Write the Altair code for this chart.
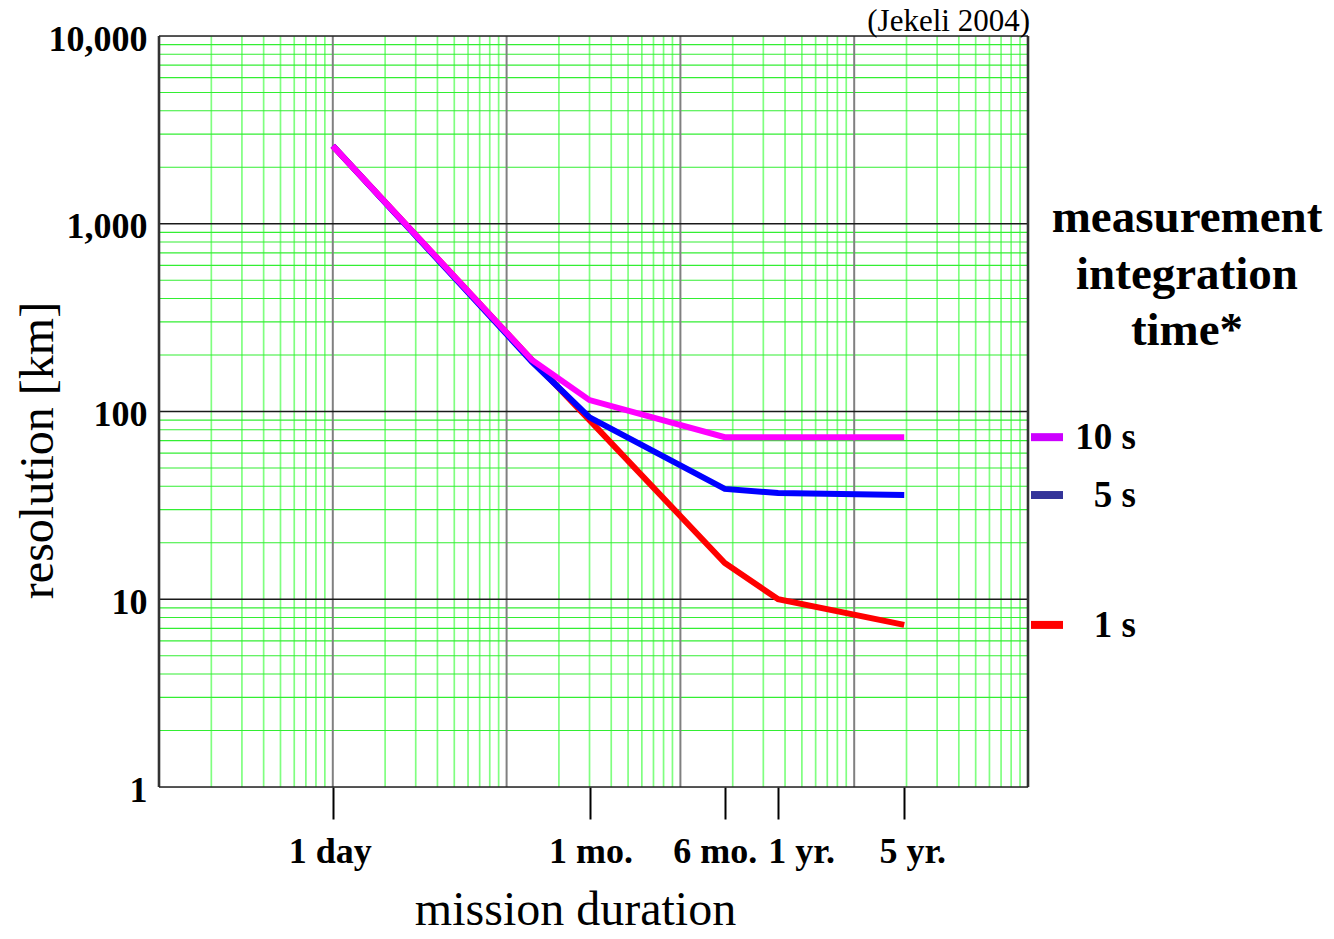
import altair as alt
import pandas as pd

# ---- data ----
days = [1, 14, 30, 180, 365, 1940]
res_10s = [2600, 188, 115, 73, 73, 73]
res_5s = [2600, 184, 93, 38.7, 36.8, 35.9]
res_1s = [2600, 188, 90, 15.6, 10.0, 7.3]

series_names = ["1 s", "5 s", "10 s"]
line_colors = ["#ff0000", "#0000ff", "#ff00ff"]
swatch_colors = ["#ff0000", "#333399", "#cc00ff"]

tick_days = [1, 30, 180, 365, 1940]
tick_labels = ["1 day", "1 mo.", "6 mo.", "1 yr.", "5 yr."]
y_ticks = [1, 10, 100, 1000, 10000]

legend_title_lines = ["measurement", "integration", "time*"]
source_note = "(Jekeli 2004)"

FONT = "Liberation Serif"
W, H = 869, 751

# ---- tables ----
rows = []
for name, vals in zip(series_names, [res_1s, res_5s, res_10s]):
    for d, r in zip(days, vals):
        rows.append({"days": d, "res": r, "series": name})
lines_df = pd.DataFrame(rows)

leg_df = pd.DataFrame({
    "series": series_names,
    "res": [res_1s[-1], res_5s[-1], res_10s[-1]],
    "swatch": swatch_colors,
})

x_minor = pd.DataFrame({"days": [k * 10.0 ** d for d in range(-1, 4) for k in range(2, 10)]})
y_minor = pd.DataFrame({"res": [k * 10.0 ** d for d in range(0, 4) for k in range(2, 10)]})
x_major = pd.DataFrame({"days": [1, 10, 100, 1000]})
y_major = pd.DataFrame({"res": [10, 100, 1000]})
x_border = pd.DataFrame({"days": [0.1, 10000]})
y_border = pd.DataFrame({"res": [1, 10000]})

xscale = alt.Scale(type="log", domain=[0.1, 10000], nice=False)
yscale = alt.Scale(type="log", domain=[1, 10000], nice=False)

label_expr = " : ".join(
    f"datum.value == {v} ? '{l}'" for v, l in zip(tick_days, tick_labels)
) + " : ''"

# small horizontal nudges of the crowded x labels, as in the reference
label_shift = {1: -3, 30: 1, 180: -10, 365: 23, 1940: 8}
x_label_offset = {
    "condition": [{"test": f"datum.value == {v}", "value": s} for v, s in label_shift.items()],
    "value": 0,
}

x_axis = alt.Axis(
    values=tick_days, labelExpr=label_expr, grid=False, domain=False,
    ticks=True, tickSize=32, tickWidth=2, tickColor="black",
    labelFont=FONT, labelFontSize=36, labelFontWeight="bold", labelColor="black",
    labelBaseline="alphabetic", labelPadding=43, labelOverlap=False,
    labelBound=False, labelFlush=False, labelOffset=x_label_offset,
    title="mission duration", titleFont=FONT, titleFontSize=48,
    titleFontWeight="normal", titleColor="black",
    titleX=416, titleY=137, titleBaseline="alphabetic", titleAlign="center",
)
y_axis = alt.Axis(
    values=y_ticks, format=",", ticks=False, domain=False, grid=False,
    labelFont=FONT, labelFontSize=36, labelFontWeight="bold", labelColor="black",
    labelPadding=12, labelBaseline="alphabetic", labelOffset=14,
    labelOverlap=False, labelBound=False, labelFlush=False,
    title="resolution [km]", titleFont=FONT, titleFontSize=48,
    titleFontWeight="normal", titleColor="black",
    titleX=-107, titleY=414, titleAngle=270, titleBaseline="alphabetic",
    titleAlign="center",
)

X = lambda: alt.X("days:Q", scale=xscale, axis=x_axis)
Y = lambda: alt.Y("res:Q", scale=yscale, axis=y_axis)

def vrules(df, color, width):
    return alt.Chart(df).mark_rule(color=color, strokeWidth=width).encode(x=X())

def hrules(df, color, width):
    return alt.Chart(df).mark_rule(color=color, strokeWidth=width).encode(y=Y())

layers = [
    vrules(x_minor, "#80ff80", 1.7),
    hrules(y_minor, "#33ee33", 1.1),
    vrules(x_major, "#808080", 2),
    hrules(y_major, "#1a1a1a", 1.3),
    vrules(x_border, "#333333", 2.6),
    hrules(y_border, "#222222", 1.6),
]

for name, col in zip(series_names, line_colors):
    layers.append(
        alt.Chart(lines_df).transform_filter(alt.datum.series == name)
        .mark_line(color=col, strokeWidth=6)
        .encode(x=X(), y=Y())
    )

# legend-like labels at the line ends
layers.append(
    alt.Chart(leg_df).mark_rule(strokeWidth=8).encode(
        x=alt.value(872), x2=alt.value(904), y=Y(),
        color=alt.Color("swatch:N", scale=None),
    )
)
layers.append(
    alt.Chart(leg_df).mark_text(
        align="right", baseline="alphabetic", dy=12, font=FONT,
        fontSize=37, fontWeight="bold", color="black",
    ).encode(x=alt.value(977), y=Y(), text="series:N")
)
layers.append(
    alt.Chart(pd.DataFrame({"k": [0]})).mark_text(
        text=legend_title_lines, align="center", baseline="alphabetic",
        font=FONT, fontSize=47, fontWeight="bold", color="black", lineHeight=56.5,
    ).encode(x=alt.value(1028), y=alt.value(196))
)
# source note above the top-right corner
layers.append(
    alt.Chart(pd.DataFrame({"k": [0]})).mark_text(
        text=source_note, align="right", baseline="alphabetic",
        font=FONT, fontSize=31, color="black",
    ).encode(x=alt.value(871), y=alt.value(-5))
)

chart = alt.layer(*layers).properties(
    width=W, height=H,
    autosize=alt.AutoSizeParams(type="none"),
    padding={"left": 151, "top": 28, "right": 298, "bottom": 144},
).configure_view(stroke=None).configure(background="white")

chart.save("out.html", embed_options={"renderer": "svg", "actions": False})
